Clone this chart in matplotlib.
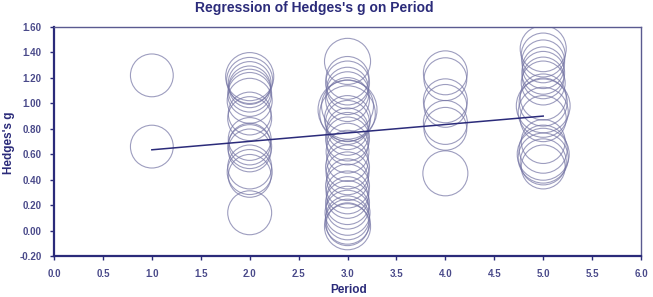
import matplotlib
matplotlib.use('Agg')
import matplotlib.pyplot as plt

plt.rcParams['font.family'] = ['Liberation Sans', 'DejaVu Sans']

navy = '#2b2b7a'
ring = '#7474a4'

# Hedges's g per study, grouped by period
g_p1 = [1.22, 0.66]
s_p1 = [950, 950]
g_p2 = [1.21, 1.18, 1.16, 1.13, 1.10, 1.07, 1.02, 0.92, 0.88, 0.72, 0.68, 0.66, 0.63, 0.50, 0.46, 0.43, 0.14]
s_p2 = [1200, 1100, 950, 900, 950, 1000, 1050, 950, 1000, 950, 900, 1000, 950, 1000, 1050, 950, 1000]
g_p3 = [1.33, 1.20, 1.16, 1.12, 1.08, 1.03, 0.98, 0.95, 0.92, 0.88, 0.85, 0.80, 0.76, 0.72, 0.68,
        0.62, 0.55, 0.50, 0.45, 0.40, 0.35, 0.30, 0.26, 0.22, 0.18, 0.14, 0.10, 0.07, 0.05, 0.03]
s_p3 = [1100, 950, 1000, 900, 950, 1000, 1400, 1800, 1600, 1100, 1000, 900, 950, 1000, 900,
        950, 900, 1000, 950, 900, 1000, 950, 900, 1000, 950, 1050, 1000, 1050, 950, 1100]
g_p4 = [1.24, 1.19, 1.02, 0.98, 0.85, 0.80, 0.45]
s_p4 = [1000, 950, 1000, 950, 1000, 950, 1050]
g_p5 = [1.43, 1.38, 1.33, 1.28, 1.24, 1.20, 1.16, 1.05, 1.01, 0.98, 0.93, 0.88, 0.70, 0.64, 0.60, 0.57, 0.54, 0.50]
s_p5 = [1100, 1000, 950, 900, 950, 900, 1000, 1100, 1200, 1500, 1300, 1100, 1000, 1200, 1400, 1300, 1100, 1000]

periods = [1, 2, 3, 4, 5]
groups = [(g_p1, s_p1), (g_p2, s_p2), (g_p3, s_p3), (g_p4, s_p4), (g_p5, s_p5)]

# fitted regression line end points
reg_x = [1.0, 5.0]
reg_y = [0.635, 0.90]

xticks = [0.0, 0.5, 1.0, 1.5, 2.0, 2.5, 3.0, 3.5, 4.0, 4.5, 5.0, 5.5, 6.0]
yticks = [-0.20, 0.00, 0.20, 0.40, 0.60, 0.80, 1.00, 1.20, 1.40, 1.60]

fig = plt.figure(figsize=(6.53, 2.97), dpi=100)
ax = fig.add_axes([0.0827, 0.138, 0.8990, 0.771])

for p, (g, s) in zip(periods, groups):
    ax.scatter([p] * len(g), g, s=s, facecolors='none', edgecolors=ring,
               linewidths=0.8, alpha=0.7, zorder=2)

ax.plot(reg_x, reg_y, color=navy, lw=1.1, zorder=3)

ax.set_xlim(0, 6)
ax.set_ylim(-0.2, 1.6)
ax.set_xticks(xticks)
ax.set_xticklabels(['%.1f' % v for v in xticks])
ax.set_yticks(yticks)
ax.set_yticklabels(['%.2f' % v for v in yticks])
for lab in ax.get_xticklabels() + ax.get_yticklabels():
    lab.set_fontweight('bold')
    lab.set_fontsize(7)
    lab.set_color('#4a4a8a')
ax.tick_params(axis='both', direction='out', length=3, width=1, color=navy, pad=6)

ax.spines['left'].set_linewidth(1.6)
ax.spines['bottom'].set_linewidth(1.6)
ax.spines['left'].set_color(navy)
ax.spines['bottom'].set_color(navy)
ax.spines['top'].set_color('#5a5a90')
ax.spines['right'].set_color('#5a5a90')
ax.spines['top'].set_linewidth(1.0)
ax.spines['right'].set_linewidth(1.0)

fig.text(0.481, 0.972, "Regression of Hedges's g on Period", ha='center', va='center',
         fontsize=10, fontweight='bold', color=navy)
fig.text(0.534, 0.025, 'Period', ha='center', va='center',
         fontsize=8.5, fontweight='bold', color=navy)
fig.text(0.014, 0.52, "Hedges's g", ha='center', va='center', rotation=90,
         fontsize=8.5, fontweight='bold', color=navy)

fig.savefig('out.png', dpi=100)
